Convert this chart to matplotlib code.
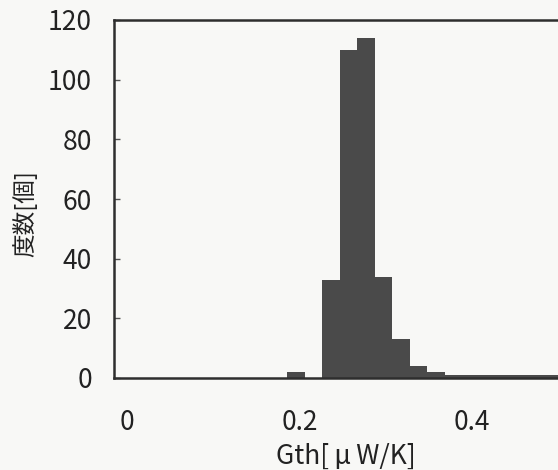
import matplotlib
matplotlib.use("Agg")
import matplotlib.pyplot as plt

plt.rcParams['font.family'] = ['Noto Sans CJK JP', 'DejaVu Sans']

# Data
bin_left = [0.1856, 0.2262, 0.2465, 0.2668, 0.2871, 0.3074, 0.3277, 0.3480,
            0.3683, 0.3886, 0.4089, 0.4292, 0.4495, 0.4698, 0.4901]
counts = [2, 33, 110, 114, 34, 13, 4, 2, 1, 1, 1, 1, 1, 1, 1]
bin_width = 0.0203

x_ticks = [0, 0.2, 0.4]
x_tick_labels = ["0", "0.2", "0.4"]
y_ticks = [0, 20, 40, 60, 80, 100, 120]

bg = '#f8f8f6'
fig = plt.figure(figsize=(5.58, 4.70), dpi=100, facecolor=bg)
ax = fig.add_axes([114/558, 1-378/470, 1-114/558, (378-20)/470], facecolor=bg)

ax.bar(bin_left, counts, width=bin_width, align='edge', color='#4a4a4a',
       edgecolor='none', linewidth=0)

ax.set_xlim(-0.0154, 0.5)
ax.set_ylim(0, 120)
ax.set_xticks(x_ticks)
ax.set_xticklabels(x_tick_labels)
ax.set_yticks(y_ticks)

for s in ['left', 'bottom', 'top']:
    ax.spines[s].set_linewidth(1.8)
    ax.spines[s].set_color('#2e2e2e')
ax.spines['right'].set_visible(False)

ax.tick_params(axis='y', direction='in', length=4, width=1, color='#555555',
               labelsize=19, pad=16, labelcolor='#222222')
ax.tick_params(axis='x', length=0, labelsize=19, pad=22, labelcolor='#222222')

ax.set_xlabel("Gth[\u2009μ\u2009W/K]", fontsize=19, color='#222222')
ax.xaxis.set_label_coords(0.5225, -0.218)
ax.xaxis.label.set_va('center')

ax.set_ylabel("度数[個]", fontsize=17, color='#222222')
ax.yaxis.set_label_coords(-0.2, 0.46)
ax.yaxis.label.set_va('center')

fig.savefig("out.png", dpi=100, facecolor=bg)
